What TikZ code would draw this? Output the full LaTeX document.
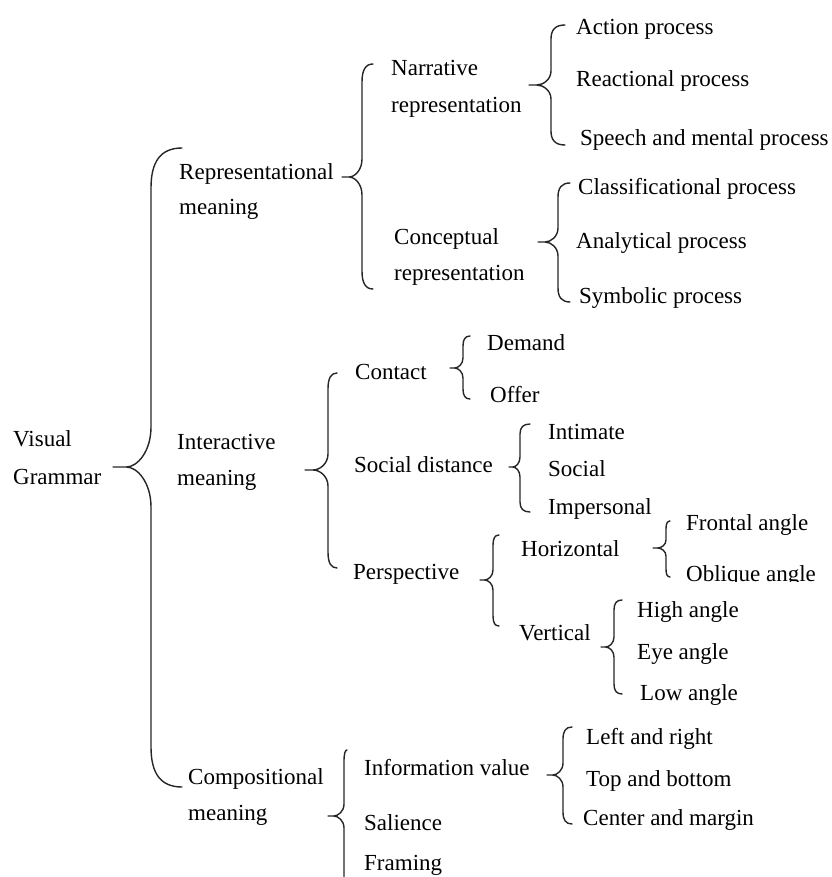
\documentclass[tikz,border=0pt]{standalone}
\usepackage{fontspec}
\setmainfont{Liberation Serif}
\newcommand\mybrace[8]{% xe, xl, xt, yt, ym, yb, re, rm
  \pgfmathsetmacro\bA{#2+0.3*(#1-#2)}%
  \pgfmathsetmacro\bB{#4+0.35*#7}%
  \pgfmathsetmacro\bC{#4+#7}%
  \pgfmathsetmacro\bD{#5-#8}%
  \pgfmathsetmacro\bE{#5-0.4*#8}%
  \pgfmathsetmacro\bF{#3+0.35*(#2-#3)}%
  \pgfmathsetmacro\bG{#2-0.35*(#2-#3)}%
  \pgfmathsetmacro\bH{#5+0.4*#8}%
  \pgfmathsetmacro\bI{#5+#8}%
  \pgfmathsetmacro\bJ{#6-#7}%
  \pgfmathsetmacro\bK{#6-0.35*#7}%
  \draw[bracestyle] (#1,#4) .. controls (\bA,#4) and (#2,\bB) .. (#2,\bC)
    -- (#2,\bD) .. controls (#2,\bE) and (\bG,#5) .. (\bF,#5) -- (#3,#5)
    -- (\bF,#5) .. controls (\bG,#5) and (#2,\bH) .. (#2,\bI)
    -- (#2,\bJ) .. controls (#2,\bK) and (\bA,#6) .. (#1,#6);
}
\begin{document}
\begin{tikzpicture}[x=1pt,y=-1pt,
  lbl/.style={anchor=west,inner sep=0pt,text height=17pt,text depth=2pt,
    align=left,font=\fontsize{23}{36}\selectfont,text=black},
  bracestyle/.style={line width=1.4pt,black!85,line cap=round,line join=round}]
\useasboundingbox (0,0) rectangle (831,877);
% level 0 (two-line nodes: y is the centre of the last line)
\node[lbl,font=\fontsize{23}{38}\selectfont] (vg) at (13,477) {Visual\\Grammar};
% level 1
\node[lbl,font=\fontsize{23}{35}\selectfont] (rep) at (179,207) {Representational\\meaning};
\node[lbl] (int) at (177,478) {Interactive\\meaning};
\node[lbl] (comp) at (188,813) {Compositional\\meaning};
% representational
\node[lbl,font=\fontsize{23}{37}\selectfont] (nar) at (391,105) {Narrative\\representation};
\node[lbl] (con) at (394,273) {Conceptual\\representation};
\node[lbl] (act) at (576,27) {Action process};
\node[lbl] (rea) at (576,79) {Reactional process};
\node[lbl] (spe) at (580,138) {Speech and mental process};
\node[lbl] (cla) at (578,187) {Classificational process};
\node[lbl] (ana) at (576,241) {Analytical process};
\node[lbl] (sym) at (579,296) {Symbolic process};
% interactive
\node[lbl] (cont) at (355,372) {Contact};
\node[lbl] (dem) at (487,343) {Demand};
\node[lbl] (off) at (490,395) {Offer};
\node[lbl] (soc) at (354,465) {Social distance};
\node[lbl] (inti) at (548,432) {Intimate};
\node[lbl] (soci) at (548,469) {Social};
\node[lbl] (imp) at (548,507) {Impersonal};
\node[lbl] (per) at (353,572) {Perspective};
\node[lbl] (hor) at (521,549) {Horizontal};
\node[lbl] (fro) at (686,523) {Frontal angle};
\begin{scope}
  \clip (680,555) rectangle (831,581);
  \node[lbl] (obl) at (686,574) {Oblique angle};
\end{scope}
\node[lbl] (ver) at (519,633) {Vertical};
\node[lbl] (hig) at (637,610) {High angle};
\node[lbl] (eye) at (637,652) {Eye angle};
\node[lbl] (low) at (640,693) {Low angle};
% compositional
\node[lbl] (inf) at (364,768) {Information value};
\node[lbl] (lef) at (586,737) {Left and right};
\node[lbl] (top) at (586,779) {Top and bottom};
\node[lbl] (cen) at (583,818) {Center and margin};
\node[lbl] (sal) at (364,823) {Salience};
\node[lbl] (fra) at (364,863) {Framing};
% braces
\mybrace{182}{151}{113}{148}{467}{787}{40}{40}
\mybrace{373}{362}{342}{64}{177}{289}{18}{18}
\mybrace{565}{551}{529}{25}{85}{145}{14}{14}
\mybrace{570}{558}{538}{183}{242}{302}{14}{14}
\mybrace{337}{328}{305}{373}{470}{568}{16}{16}
\mybrace{470}{463}{450}{336}{368}{399}{10}{10}
\mybrace{530}{520}{509}{424}{467}{512}{10}{10}
\mybrace{499}{493}{480}{535}{580}{626}{10}{10}
\mybrace{670}{666}{653}{521}{548}{577}{8}{8}
\mybrace{622}{614}{601}{600}{647}{694}{10}{10}
\mybrace{347}{344}{328}{750}{816}{890}{12}{12}
\mybrace{572}{563}{547}{727}{775}{824}{12}{12}
\end{tikzpicture}
\end{document}
